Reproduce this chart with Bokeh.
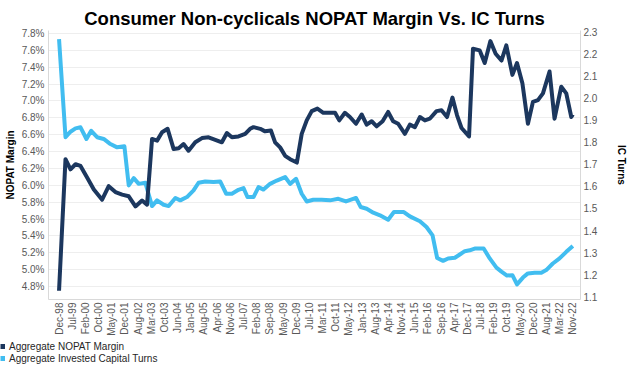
import math
from bokeh.plotting import figure
from bokeh.layouts import column
from bokeh.models import (Range1d, LinearAxis, FixedTicker, PrintfTickFormatter,
                          Legend, LegendItem)
from bokeh.embed import file_html
from bokeh.resources import INLINE

date_labels = ["Dec-98", "Jul-99", "Feb-00", "Oct-00", "May-01", "Dec-01", "Aug-02", "Mar-03",
               "Oct-03", "Jun-04", "Jan-05", "Aug-05", "Apr-06", "Nov-06", "Jul-07", "Feb-08",
               "Sep-08", "May-09", "Dec-09", "Jul-10", "Mar-11", "Oct-11", "May-12", "Jan-13",
               "Aug-13", "Apr-14", "Nov-14", "Jun-15", "Feb-16", "Sep-16", "Apr-17", "Dec-17",
               "Jul-18", "Feb-19", "Oct-19", "May-20", "Dec-20", "Aug-21", "Mar-22", "Nov-22"]

margin_ticks = [4.8, 5.0, 5.2, 5.4, 5.6, 5.8, 6.0, 6.2, 6.4, 6.6, 6.8, 7.0, 7.2, 7.4, 7.6, 7.8]
turns_ticks = [1.1, 1.2, 1.3, 1.4, 1.5, 1.6, 1.7, 1.8, 1.9, 2.0, 2.1, 2.2, 2.3]

# period positions measured in units of the date-label spacing
nopat_period = [0, 0.49, 0.87, 1.25, 1.63, 2.14, 2.64, 3.27, 3.77, 4.28, 4.79, 5.29, 5.80, 6.30, 6.68,
                7.06, 7.44, 7.82, 8.24, 8.70, 9.08, 9.45, 9.83, 10.34, 10.85, 11.35, 11.86, 12.36,
                12.74, 13.12, 13.62, 14.13, 14.5, 14.76, 15.27, 15.64, 16.08, 16.40, 16.78, 17.16,
                17.54, 18.05, 18.42, 18.80, 19.18, 19.61, 20.06, 20.57, 20.95, 21.27, 21.70, 22.08,
                22.54, 22.97, 23.35, 23.73, 24.11, 24.56, 24.98, 25.36, 25.74, 26.25, 26.63, 27.01,
                27.39, 27.77, 28.14, 28.65, 29.03, 29.45, 29.86, 30.21, 30.55, 31.12, 31.42, 31.93,
                32.31, 32.74, 33.14, 33.58, 33.95, 34.41, 34.76, 35.17, 35.59, 35.97, 36.35, 36.73,
                37.23, 37.61, 38.12, 38.50, 38.88, 39.0]
nopat_margin = [4.75, 6.31, 6.19, 6.25, 6.23, 6.09, 5.95, 5.83, 5.99, 5.92, 5.89, 5.87, 5.75, 5.82, 5.77,
                6.55, 6.53, 6.63, 6.67, 6.43, 6.44, 6.49, 6.41, 6.51, 6.56, 6.57, 6.54, 6.51,
                6.62, 6.57, 6.58, 6.61, 6.67, 6.69, 6.67, 6.64, 6.65, 6.51, 6.45, 6.35,
                6.31, 6.27, 6.61, 6.77, 6.88, 6.91, 6.86, 6.86, 6.86, 6.77, 6.86, 6.81,
                6.73, 6.84, 6.72, 6.76, 6.70, 6.76, 6.87, 6.76, 6.73, 6.61, 6.72, 6.69,
                6.81, 6.77, 6.79, 6.88, 6.89, 6.81, 7.04, 6.83, 6.68, 6.58, 7.62, 7.60,
                7.45, 7.71, 7.56, 7.48, 7.66, 7.31, 7.45, 7.21, 6.73, 6.99, 7.01, 7.09,
                7.35, 6.79, 7.17, 7.09, 6.81, 6.84]

ic_period = [0, 0.49, 0.87, 1.25, 1.63, 2.08, 2.44, 2.89, 3.39, 3.90, 4.41, 4.96, 5.29, 5.67, 6.05,
             6.55, 7.06, 7.44, 7.94, 8.32, 8.83, 9.20, 9.71, 10.21, 10.59, 11.10, 11.73, 12.23,
             12.69, 13.12, 13.62, 14.0, 14.3, 14.76, 15.14, 15.52, 16.02, 16.53, 17.16, 17.54,
             17.99, 18.42, 18.80, 19.30, 19.94, 20.57, 21.20, 21.78, 22.54, 22.89, 23.35, 23.85,
             24.36, 24.98, 25.42, 26.17, 26.63, 27.39, 27.89, 28.35, 28.70, 29.15, 29.53, 30.04,
             30.42, 30.80, 31.17, 31.55, 32.23, 32.69, 33.20, 33.58, 34.0, 34.41, 34.76, 35.21,
             35.59, 36.10, 36.61, 36.98, 37.48, 37.99, 38.5, 39.0]
ic_turns = [2.27, 1.824, 1.849, 1.864, 1.869, 1.816, 1.853, 1.824, 1.816, 1.793, 1.778, 1.783, 1.605,
            1.638, 1.612, 1.617, 1.511, 1.537, 1.517, 1.511, 1.548, 1.537, 1.552, 1.582, 1.617,
            1.623, 1.620, 1.623, 1.567, 1.567, 1.585, 1.593, 1.552, 1.552, 1.597, 1.586, 1.612,
            1.627, 1.643, 1.612, 1.635, 1.567, 1.532, 1.540, 1.540, 1.537, 1.544, 1.532, 1.548,
            1.507, 1.499, 1.481, 1.469, 1.449, 1.484, 1.484, 1.464, 1.442, 1.416, 1.378, 1.275,
            1.262, 1.273, 1.276, 1.291, 1.306, 1.310, 1.318, 1.318, 1.273, 1.231, 1.213, 1.195,
            1.197, 1.155, 1.186, 1.205, 1.208, 1.208, 1.220, 1.250, 1.273, 1.303, 1.330]

legend_labels = ["Aggregate NOPAT Margin", "Aggregate Invested Capital Turns"]

DARK = "#1c375e"
LIGHT = "#41bdf0"
FONT = "Liberation Sans"

p = figure(width=630, height=340, output_backend="svg", toolbar_location=None,
           x_range=Range1d(-0.8, 39.58), y_range=Range1d(4.646, 7.836),
           min_border_left=48, min_border_right=49, min_border_top=30, min_border_bottom=41,
           frame_align=False)
p.extra_y_ranges = {"turns": Range1d(1.0864, 2.309)}

p.title.text = "Consumer Non-cyclicals NOPAT Margin Vs. IC Turns"
p.title.align = "center"
p.title.text_font = FONT
p.title.text_font_size = "18.5px"
p.title.text_font_style = "bold"
p.title.text_color = "#000000"
p.title.standoff = 4

p.outline_line_color = None
p.xgrid.grid_line_color = None
p.ygrid.grid_line_color = "#eeeeee"
p.ygrid.ticker = FixedTicker(ticks=margin_ticks)

# x axis
xa = p.xaxis[0]
xa.ticker = FixedTicker(ticks=list(range(len(date_labels))))
xa.major_label_overrides = {i: lab for i, lab in enumerate(date_labels)}
xa.major_label_orientation = math.pi / 2
xa.major_label_standoff = 3

# left axis
ya = p.yaxis[0]
ya.ticker = FixedTicker(ticks=margin_ticks)
ya.formatter = PrintfTickFormatter(format="%.1f%%")
ya.axis_label = "NOPAT Margin"

# right axis
ra = LinearAxis(y_range_name="turns", axis_label="IC Turns")
ra.ticker = FixedTicker(ticks=turns_ticks)
ra.formatter = PrintfTickFormatter(format="%.1f")
p.add_layout(ra, "right")

for ax in (xa, ya, ra):
    ax.major_label_text_font = FONT
    ax.major_label_text_font_size = "10px"
    ax.major_label_text_color = "#595959"
    ax.axis_line_color = "#d9d9d9"
    ax.major_tick_line_color = None
    ax.minor_tick_line_color = None
    ax.major_tick_out = 0
    ax.major_tick_in = 0
    ax.minor_tick_out = 0
    ax.minor_tick_in = 0
    ax.axis_label_text_font = FONT
    ax.axis_label_text_font_size = "10px"
    ax.axis_label_text_font_style = "bold"
    ax.axis_label_text_color = "#000000"
ya.major_label_standoff = 4
ya.axis_label_standoff = 3
ra.major_label_standoff = 3
ra.axis_label_standoff = 16

p.line(ic_period, ic_turns, y_range_name="turns", line_color=LIGHT, line_width=4, line_join="round")
p.line(nopat_period, nopat_margin, line_color=DARK, line_width=4, line_join="round")

# legend strip below the chart (swatch renderers sit outside the strip's visible range)
lg = figure(width=630, height=27, output_backend="svg", toolbar_location=None,
            x_range=Range1d(0, 1), y_range=Range1d(0, 1),
            x_axis_location=None, y_axis_location=None, frame_align=False,
            min_border_left=0, min_border_right=0, min_border_top=0, min_border_bottom=0)
lg.grid.visible = False
lg.outline_line_color = None
sw1 = lg.line(x=[5, 6], y=[5, 5], line_color=DARK, line_width=5, line_cap="butt")
sw2 = lg.line(x=[5, 6], y=[5, 5], line_color=LIGHT, line_width=5, line_cap="butt")
legend = Legend(items=[LegendItem(label=legend_labels[0], renderers=[sw1]),
                       LegendItem(label=legend_labels[1], renderers=[sw2])],
                location="top_left", orientation="vertical")
legend.background_fill_alpha = 0
legend.border_line_color = None
legend.padding = 3
legend.margin = 0
legend.spacing = 0
legend.glyph_width = 5
legend.glyph_height = 12
legend.label_height = 12
legend.label_standoff = 4
legend.label_text_font = FONT
legend.label_text_font_size = "10px"
legend.label_text_color = "#262626"
legend.label_text_baseline = "middle"
lg.add_layout(legend, "center")

layout = column(p, lg, spacing=0)
open("out.html", "w").write(file_html(layout, INLINE))
